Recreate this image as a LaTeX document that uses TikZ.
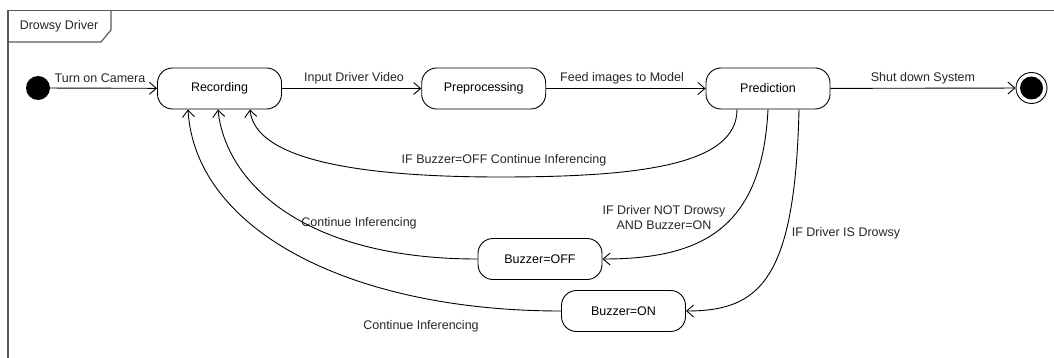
\documentclass[tikz,border=0pt]{standalone}
\usepackage{fontspec}
\setmainfont{Liberation Sans}
\usetikzlibrary{arrows.meta}
\begin{document}
\begin{tikzpicture}[x=1pt,y=-1pt, font=\fontsize{12.5}{15}\selectfont,
  state/.style={draw, rounded corners=15pt, minimum width=124pt, minimum height=41pt, inner sep=0pt, line width=0.9pt},
  tr/.style={-{Straight Barb[length=7pt,width=12pt]}, line width=0.9pt},
  lbl/.style={inner sep=0pt, text=black!85},
  frame/.style={draw=black!65, line width=1.2pt}]
\useasboundingbox (0,0) rectangle (1054,358);
% frame
\begin{scope}
\clip (0,0) rectangle (1054,358);
\draw[frame] (8,370) -- (8,10.5) -- (1070,10.5);
\draw[frame] (111,10.5) -- (111,30) -- (101,42) -- (8,42);
\end{scope}
\node[lbl] (title) at (59,26) {Drowsy Driver};
% states
\node[circle, fill=black, minimum size=24pt, inner sep=0pt] (init) at (38,88) {};
\node[state] (rec) at (219.5,88.5) {Recording};
\node[state] (pre) at (483.7,88.5) {Preprocessing};
\node[state] (pred) at (768,88.5) {Prediction};
\node[state] (off) at (540,259) {Buzzer=OFF};
\node[state] (on) at (623.5,311) {Buzzer=ON};
\node[circle, draw, line width=0.9pt, minimum size=31pt, inner sep=0pt] (fin) at (1031.5,88) {};
\node[circle, fill=black, minimum size=23pt, inner sep=0pt] (finin) at (fin) {};
% straight transitions
\draw[tr] (init) -- (rec);
\draw[tr] (rec) -- (pre);
\draw[tr] (pre) -- (pred);
\draw[tr] (pred) -- (fin);
% curved transitions
\draw[tr] ([xshift=-31pt]pred.south) .. controls (737,165) and (640,177) .. (500,177)
  .. controls (360,177) and (255,160) .. ([xshift=30.5pt]rec.south);
\draw[tr] (pred.south) .. controls (762,230) and (700,259) .. (off.east);
\draw[tr] ([xshift=31pt]pred.south) .. controls (795,280) and (760,311) .. (on.east);
\draw[tr] (off.west) .. controls (300,259) and (225,180) .. ([xshift=-1.5pt]rec.south);
\draw[tr] (on.west) .. controls (350,311) and (195,230) .. ([xshift=-31.5pt]rec.south);
% labels
\node[lbl] (l1) at (100,78) {Turn on Camera};
\node[lbl] (l2) at (354,78) {Input Driver Video};
\node[lbl] (l3) at (622,78) {Feed images to Model};
\node[lbl] (l4) at (923,78) {Shut down System};
\node[lbl] (l5) at (504,160) {IF Buzzer=OFF Continue Inferencing};
\node[lbl, align=center] (l6) at (664,218) {IF Driver NOT Drowsy\\AND Buzzer=ON};
\node[lbl] (l7) at (846,233) {IF Driver IS Drowsy};
\node[lbl] (l8) at (359,223) {Continue Inferencing};
\node[lbl] (l9) at (421,326) {Continue Inferencing};
\end{tikzpicture}
\end{document}
